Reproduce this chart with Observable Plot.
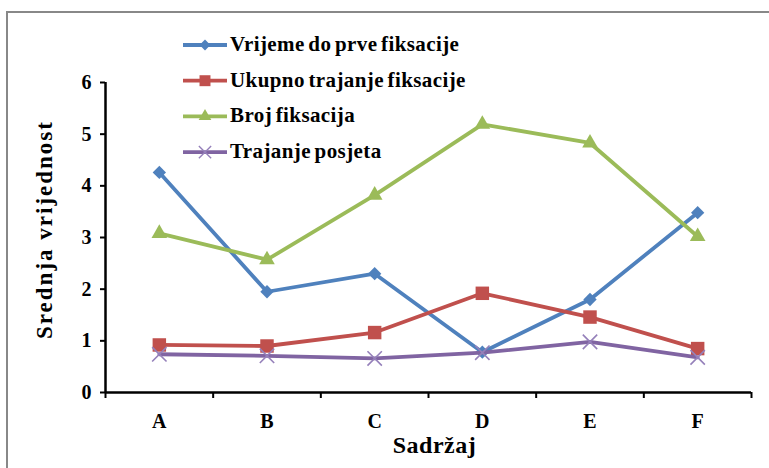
<!DOCTYPE html>
<html>
<head>
<meta charset="utf-8">
<script src="https://cdn.jsdelivr.net/npm/d3@7"></script>
<script src="https://cdn.jsdelivr.net/npm/@observablehq/plot@0.6"></script>
<style>
  html, body { margin: 0; padding: 0; background: #fff; }
  #wrap { position: relative; width: 769px; height: 468px; overflow: hidden; }
  #frame { position: absolute; left: 6px; top: 11px; width: 900px; height: 600px; border: 2px solid #888; box-sizing: border-box; }
  #chart { position: absolute; left: 0; top: 0; }
</style>
</head>
<body>
<div id="wrap"><div id="frame"></div><div id="chart"></div></div>
<script>
const categories = ["A", "B", "C", "D", "E", "F"];
const seriesNames = ["Vrijeme do prve fiksacije", "Ukupno trajanje fiksacije", "Broj fiksacija", "Trajanje posjeta"];
const vrijeme = [4.26, 1.95, 2.30, 0.78, 1.80, 3.48];
const ukupno = [0.92, 0.90, 1.16, 1.92, 1.46, 0.85];
const broj = [3.08, 2.57, 3.82, 5.19, 4.83, 3.02];
const posjeta = [0.74, 0.71, 0.66, 0.77, 0.98, 0.68];
const yTicks = [0, 1, 2, 3, 4, 5, 6];
const colors = ["#4F81BD", "#C0504D", "#9BBB59", "#8064A2"];
const timesColor = "#9580BA";
const yTitle = "Srednja vrijednost";
const xTitle = "Sadržaj";

const seriesValues = [vrijeme, ukupno, broj, posjeta];
const rows = [];
seriesValues.forEach((vals, s) => vals.forEach((v, i) => rows.push({series: seriesNames[s], s, cat: categories[i], i, value: v})));
const xPos = d => d.i + 0.5;
const centers = categories.map((c, i) => i + 0.5);
const bounds = d3.range(0, categories.length + 1);

const symbols = ["diamond2", "square", "triangle", "times"];
const radii = [6.0, 7.6, 5.8, 6.6];

const font = "Liberation Serif, Times New Roman, serif";

const marks = [
  Plot.ruleY([0], {stroke: "#000", strokeWidth: 2.5}),
  Plot.ruleX([0], {stroke: "#000", strokeWidth: 2.5}),
  Plot.axisY(yTicks, {tickSize: 5, tickPadding: 9, fontSize: 20, fontWeight: "bold", stroke: "#000", strokeWidth: 2, label: null, tickFormat: d => String(d)}),
  Plot.axisX(bounds, {tickSize: 6, tickFormat: () => "", stroke: "#000", strokeWidth: 2, label: null}),
  Plot.axisX(centers, {tickSize: 0, tickPadding: 21, fontSize: 20, fontWeight: "bold", label: null, tickFormat: d => categories[Math.floor(d)]}),
];
seriesNames.forEach((name, s) => {
  const data = rows.filter(d => d.s === s);
  marks.push(Plot.line(data, {x: xPos, y: "value", stroke: colors[s], strokeWidth: 3.8}));
  if (symbols[s] === "times") {
    marks.push(Plot.dot(data, {x: xPos, y: "value", symbol: "times", r: radii[s], stroke: timesColor, strokeWidth: 1.6, fill: "none"}));
  } else {
    marks.push(Plot.dot(data, {x: xPos, y: "value", symbol: symbols[s], r: radii[s], fill: colors[s], stroke: "none"}));
  }
});
marks.push(Plot.text([yTitle], {frameAnchor: "left", textAnchor: "middle", lineAnchor: "middle", dx: -61, dy: -8, rotate: -90, fontSize: 23, fontWeight: "bold", fill: "#000"}));
marks.push(Plot.text([xTitle], {frameAnchor: "bottom", textAnchor: "middle", dy: 60, dx: 6, fontSize: 24, fontWeight: "bold", fill: "#000"}));

const plot = Plot.plot({
  width: 769,
  height: 468,
  marginLeft: 105,
  marginRight: 18,
  marginTop: 82,
  marginBottom: 76,
  style: {fontFamily: font, background: "transparent", color: "#000", overflow: "visible"},
  x: {type: "linear", domain: [0, categories.length], axis: null},
  y: {domain: [0, 6], axis: null},
  marks
});

const svg = d3.select(plot);
svg.selectAll("text").filter(function() { return this.textContent === yTitle; }).attr("letter-spacing", "2px");
svg.selectAll("text").filter(function() { return this.textContent === xTitle; }).attr("letter-spacing", "0.5px");

// legend
const lg = svg.append("g").attr("font-family", font).attr("font-weight", "bold").attr("font-size", 21).attr("text-anchor", "start").attr("word-spacing", "-2px").attr("letter-spacing", "0.4px");
const symFns = [d3.symbolDiamond2, d3.symbolSquare, d3.symbolTriangle, d3.symbolTimes];
const symSizes = [75, 120, 70, 100];
seriesNames.forEach((lab, s) => {
  const y = 45 + s * 35.7;
  const g = lg.append("g").attr("transform", `translate(0,${y})`);
  g.append("line").attr("x1", 183).attr("x2", 227).attr("y1", 0).attr("y2", 0).attr("stroke", colors[s]).attr("stroke-width", 3.8);
  const p = g.append("path").attr("transform", "translate(205,0)").attr("d", d3.symbol(symFns[s], symSizes[s])());
  if (s === 3) p.attr("fill", "none").attr("stroke", timesColor).attr("stroke-width", 1.4);
  else p.attr("fill", colors[s]);
  g.append("text").attr("x", 230).attr("y", 6).attr("fill", "#000").text(lab);
});

document.getElementById("chart").appendChild(plot);
</script>
</body>
</html>
